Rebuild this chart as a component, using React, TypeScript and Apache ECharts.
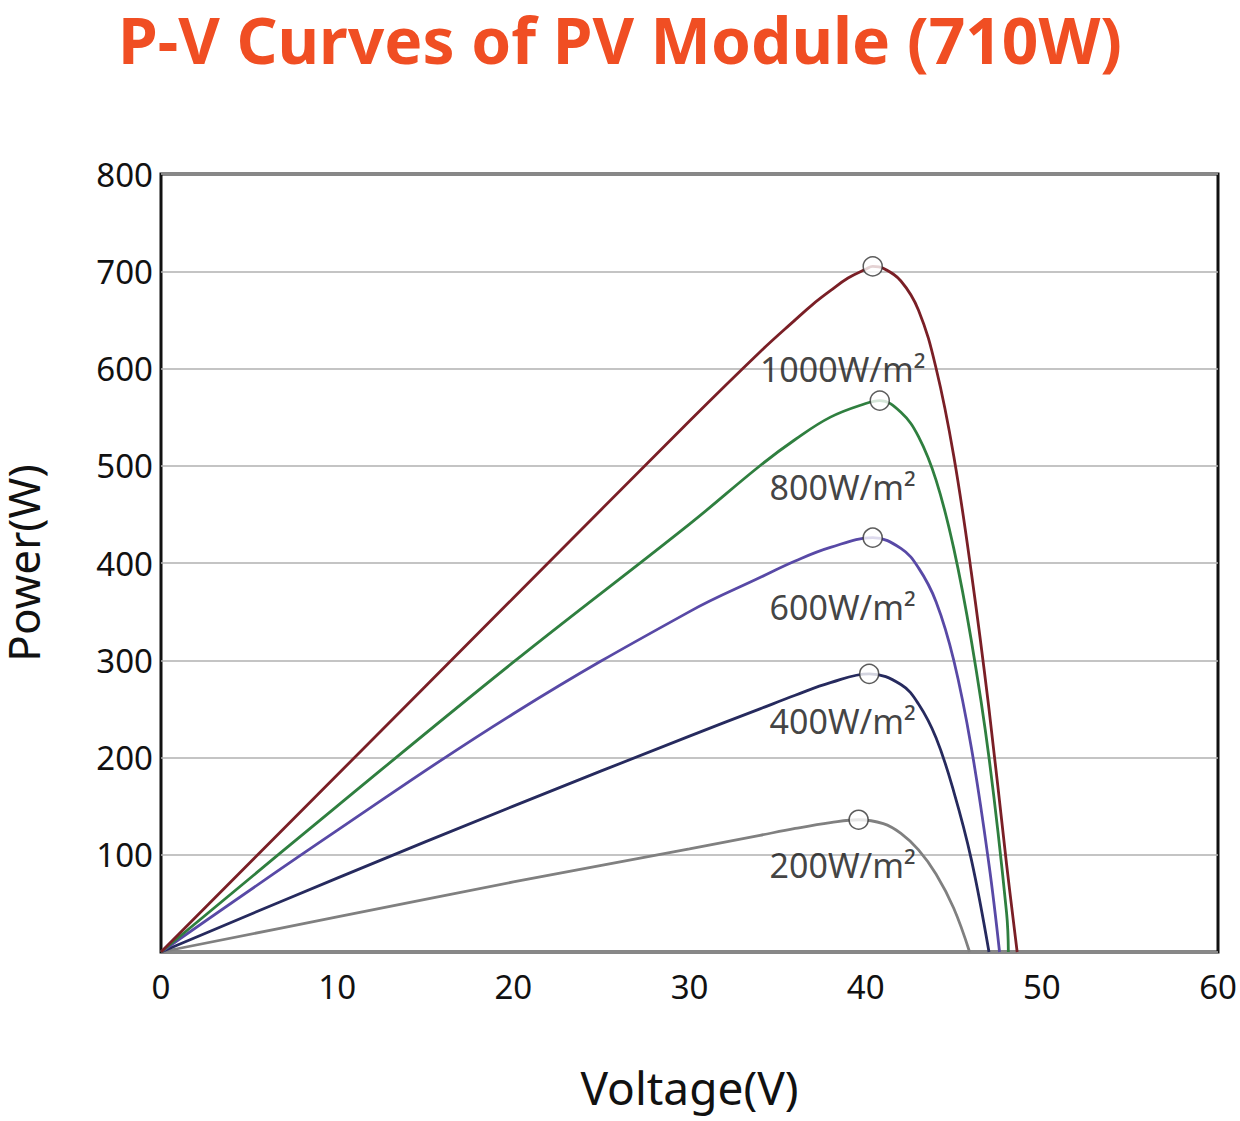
import { useEffect, useRef } from "react";
import * as echarts from "echarts";

const irradiance = ["1000W/m²", "800W/m²", "600W/m²", "400W/m²", "200W/m²"];
const colors = ["#7a1f26", "#2f7f3f", "#5849a6", "#262a5e", "#808080"];

const curve1000: [number, number][] = [[0, 0], [10, 182], [20, 364], [30, 546], [34, 617], [36, 650], [37, 666], [38, 680], [39, 693], [40, 702], [40.4, 705], [41, 703], [42, 690], [43, 660], [44, 600], [45, 510], [46, 390], [47, 250], [48, 90], [48.6, 0]];
const curve800: [number, number][] = [[0, 0], [10, 150], [20, 298], [30, 440], [34, 500], [36, 527], [38, 550], [40, 564], [40.8, 567], [42, 555], [43, 530], [44, 485], [45, 415], [46, 320], [47, 200], [48, 40], [48.1, 0]];
const curve600: [number, number][] = [[0, 0], [10, 125], [20, 245], [30, 350], [34, 385], [36, 402], [38, 416], [40.4, 426], [42, 415], [43, 395], [44, 360], [45, 300], [46, 210], [47, 90], [47.6, 0]];
const curve400: [number, number][] = [[0, 0], [10, 76], [20, 150], [30, 222], [34, 250], [36, 264], [38, 277], [40.2, 286], [42, 275], [43, 255], [44, 220], [45, 165], [46, 95], [47, 0]];
const curve200: [number, number][] = [[0, 0], [10, 36], [20, 72], [30, 106], [34, 120], [36, 127], [38, 133], [39.6, 136], [41, 132], [42, 122], [43, 105], [44, 80], [45, 45], [45.9, 0]];
const curves = [curve1000, curve800, curve600, curve400, curve200];

const peaks: [number, number][] = [[40.4, 705], [40.8, 567], [40.4, 426], [40.2, 286], [39.6, 136]];
const labelPos: [number, number][] = [[38.7, 600], [38.7, 478], [38.7, 355], [38.7, 238], [38.7, 89]];

const FONT = "'Noto Sans', sans-serif";

export default function App() {
  const ref = useRef<HTMLDivElement>(null);
  useEffect(() => {
    document.body.style.margin = "0";
    const chart = echarts.init(ref.current!, undefined, { renderer: "svg" });
    chart.setOption({
      animation: false,
      backgroundColor: "#fff",
      title: {
        text: "P-V Curves of PV Module (710W)",
        left: "center",
        top: 2,
        textStyle: { color: "#f04e23", fontSize: 64, fontWeight: "bold", fontFamily: FONT }
      },
      grid: {
        left: 161, top: 174, width: 1057, height: 778, containLabel: false, outerBoundsMode: "none",
        show: true, borderColor: "#111", borderWidth: 3, backgroundColor: "transparent"
      },
      xAxis: {
        type: "value", min: 0, max: 60, interval: 10,
        name: "Voltage(V)", nameLocation: "middle", nameGap: 112,
        nameTextStyle: { fontSize: 46, color: "#111", fontFamily: FONT },
        axisLine: { show: false }, axisTick: { show: false }, splitLine: { show: false },
        axisLabel: { fontSize: 33, color: "#111", margin: 18, fontFamily: FONT }
      },
      yAxis: {
        type: "value", min: 0, max: 800, interval: 100,
        name: "Power(W)", nameLocation: "middle", nameGap: 116,
        nameTextStyle: { fontSize: 44, color: "#111", fontFamily: FONT },
        axisLine: { show: false }, axisTick: { show: false },
        splitLine: { lineStyle: { color: "#b0b0b0", width: 1.5 } },
        axisLabel: { fontSize: 33, color: "#111", margin: 8, fontFamily: FONT, formatter: (v: number) => (v === 0 ? "" : String(v)) }
      },
      series: [
        ...curves.map((c, i) => ({
          type: "line", name: irradiance[i], data: c, smooth: 0.4, showSymbol: false,
          lineStyle: { color: colors[i], width: 2.8 }, z: 5 - i
        })),
        {
          type: "scatter", data: peaks, symbolSize: 19, z: 10,
          itemStyle: { color: "#fff", borderColor: "#333", borderWidth: 1.5 }
        },
        {
          type: "scatter", data: labelPos.map((p, i) => ({ value: p, name: irradiance[i] })),
          symbolSize: 0, z: 11,
          label: {
            show: true, position: "inside", formatter: "{b}", fontSize: 34, color: "#111",
            fontFamily: FONT
          }
        }
      ]
    });
    return () => chart.dispose();
  }, []);
  return <div ref={ref} style={{ width: 1240, height: 1121 }} />;
}
